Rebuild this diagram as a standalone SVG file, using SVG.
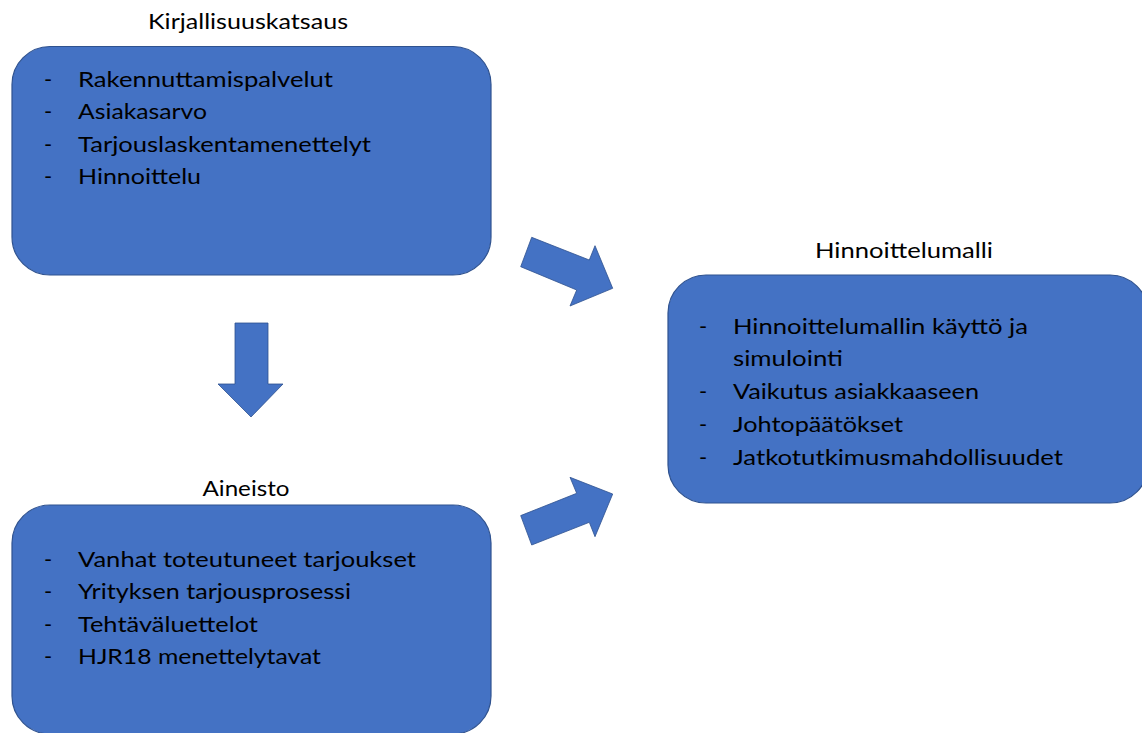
<svg xmlns="http://www.w3.org/2000/svg" width="1142" height="733" viewBox="0 0 1142 733">
<style>
.box{fill:#4472C4;stroke:#2F528F;stroke-width:1.2}
.arr{fill:#4472C4;stroke:#2F528F;stroke-width:0.8}
text{font-family:Lato,"Open Sans","Liberation Sans",sans-serif;font-size:22px;fill:#000}
.title{text-anchor:middle}
</style>
<rect width="1142" height="733" fill="#ffffff"/>
<g id="connectors">
<polygon class="arr" points="235,323 268,323 268,384 283,384 251,417 218,384 235,384"/>
<polygon class="arr" points="531.7,237.3 589.3,260 595,245.7 612.7,288.3 570,306 576.7,290 520.7,266.7"/>
<polygon class="arr" points="531.7,545 589.3,522.3 595,536.7 612.7,494 570,477.3 576.7,493.3 520.7,515.6"/>
</g>
<g id="node-kirjallisuuskatsaus">
<text class="title" x="248" y="29" textLength="200" lengthAdjust="spacingAndGlyphs">Kirjallisuuskatsaus</text>
<rect class="box" x="12" y="46.5" width="479" height="228.5" rx="38" ry="38"/>
<text x="44" y="86.5">-</text><text x="78" y="86.5" textLength="255" lengthAdjust="spacingAndGlyphs">Rakennuttamispalvelut</text>
<text x="44" y="119">-</text><text x="78" y="119" textLength="129" lengthAdjust="spacingAndGlyphs">Asiakasarvo</text>
<text x="44" y="151.5">-</text><text x="78" y="151.5" textLength="293" lengthAdjust="spacingAndGlyphs">Tarjouslaskentamenettelyt</text>
<text x="44" y="184">-</text><text x="78" y="184" textLength="123" lengthAdjust="spacingAndGlyphs">Hinnoittelu</text>
</g>
<g id="node-aineisto">
<text class="title" x="246" y="496" textLength="87" lengthAdjust="spacingAndGlyphs">Aineisto</text>
<rect class="box" x="12" y="505" width="479" height="229" rx="38" ry="38"/>
<text x="44" y="566.5">-</text><text x="78" y="566.5" textLength="338" lengthAdjust="spacingAndGlyphs">Vanhat toteutuneet tarjoukset</text>
<text x="44" y="599">-</text><text x="78" y="599" textLength="273" lengthAdjust="spacingAndGlyphs">Yrityksen tarjousprosessi</text>
<text x="44" y="631.5">-</text><text x="78" y="631.5" textLength="180" lengthAdjust="spacingAndGlyphs">Tehtäväluettelot</text>
<text x="44" y="664">-</text><text x="78" y="664" textLength="243" lengthAdjust="spacingAndGlyphs">HJR18 menettelytavat</text>
</g>
<g id="node-hinnoittelumalli">
<text class="title" x="904" y="258" textLength="178" lengthAdjust="spacingAndGlyphs">Hinnoittelumalli</text>
<rect class="box" x="668" y="275" width="480" height="228" rx="38" ry="38"/>
<text x="699" y="333.5">-</text><text x="733" y="333.5" textLength="295" lengthAdjust="spacingAndGlyphs">Hinnoittelumallin käyttö ja</text>
<text x="733" y="366" textLength="110" lengthAdjust="spacingAndGlyphs">simulointi</text>
<text x="699" y="399">-</text><text x="733" y="399" textLength="246" lengthAdjust="spacingAndGlyphs">Vaikutus asiakkaaseen</text>
<text x="699" y="432">-</text><text x="733" y="432" textLength="170" lengthAdjust="spacingAndGlyphs">Johtopäätökset</text>
<text x="699" y="465">-</text><text x="733" y="465" textLength="330" lengthAdjust="spacingAndGlyphs">Jatkotutkimusmahdollisuudet</text>
</g>
</svg>
